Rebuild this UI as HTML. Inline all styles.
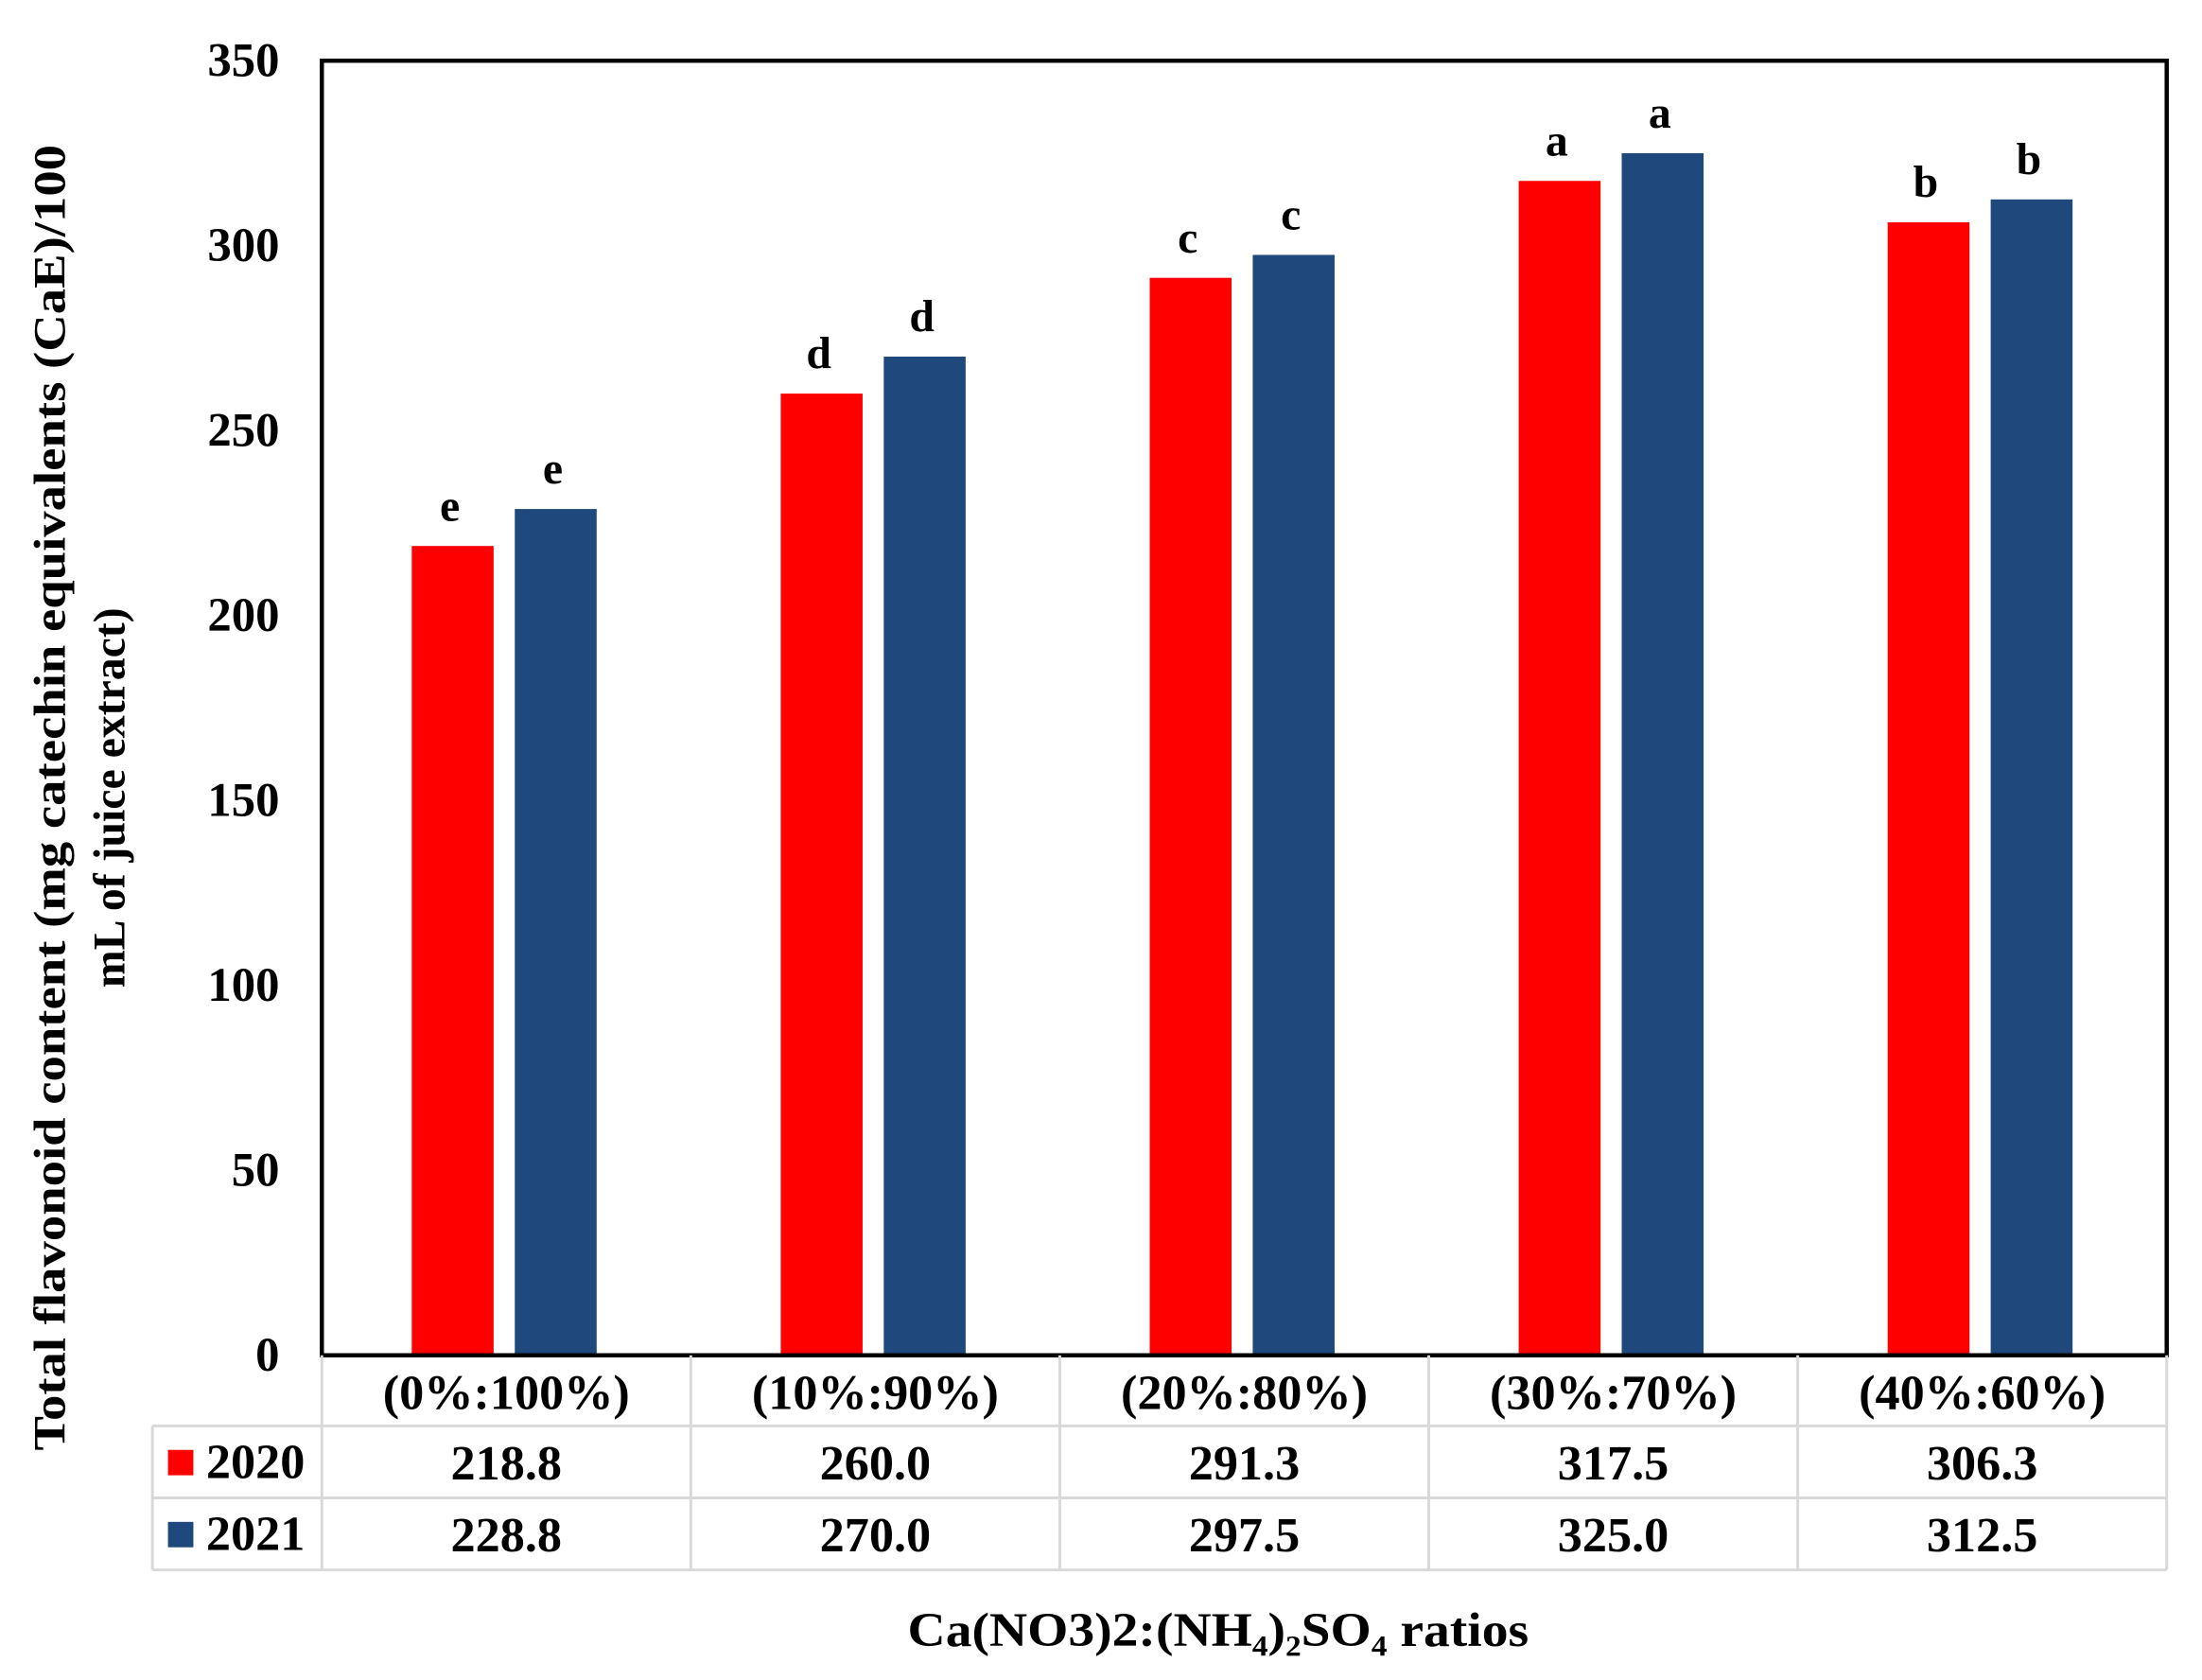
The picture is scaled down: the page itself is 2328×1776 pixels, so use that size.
<!DOCTYPE html>
<html><head><meta charset="utf-8"><style>
html,body{margin:0;padding:0;background:#fff}
svg{display:block}
text{font-family:"Liberation Serif",serif;font-weight:bold;fill:#000}
</style></head><body>
<svg id="chart" width="2328" height="1776" viewBox="0 0 1560 1190" preserveAspectRatio="none" xmlns="http://www.w3.org/2000/svg">
<g id="marks"></g>
<g id="tbl"></g>
<text transform="translate(46,565) rotate(-90)" text-anchor="middle" font-size="32" textLength="925" lengthAdjust="spacingAndGlyphs">Total flavonoid content (mg catechin  equivalents (CaE)/100</text>
<text transform="translate(88,565) rotate(-90)" text-anchor="middle" font-size="32">mL of juice extract)</text>
<text x="863" y="1166" text-anchor="middle" font-size="34" textLength="440" lengthAdjust="spacingAndGlyphs">Ca(NO3)2:(NH₄)₂SO₄  ratios</text>
</svg>
<script>
const categories=["(0%:100%)","(10%:90%)","(20%:80%)","(30%:70%)","(40%:60%)"];
const values2020=[218.8,260.0,291.3,317.5,306.3];
const values2021=[228.8,270.0,297.5,325.0,312.5];
const letters2020=["e","d","c","a","b"];
const letters2021=["e","d","c","a","b"];
const yTicks=[0,50,100,150,200,250,300,350];
const seriesNames=["2020","2021"];
const colors=["#ff0000","#1f497d"];
const NS="http://www.w3.org/2000/svg";
const L=228,R=1535,T=43,B=960,YMAX=350;
const bw=(R-L)/categories.length;
const y=v=>B-(v/YMAX)*(B-T);
const xc=i=>L+bw*(i+0.5);
function mk(tag,attrs,parent,txt){const e=document.createElementNS(NS,tag);for(const k in attrs)e.setAttribute(k,attrs[k]);if(txt!==undefined)e.textContent=txt;parent.appendChild(e);return e;}
const g=document.getElementById('marks');
const tb=document.getElementById('tbl');
yTicks.forEach(t=>{
  const e=mk('text',{x:198,y:y(t)+11,'text-anchor':'end','font-size':34},g,String(t));
  
  
});
const series=[values2020,values2021];
const lets=[letters2020,letters2021];
categories.forEach((c,i)=>{
  series.forEach((vals,s)=>{
    const x0=s===0?xc(i)-67:xc(i)+6;
    const r=mk('rect',{x:x0,y:y(vals[i]),width:58,height:B-y(vals[i]),fill:colors[s]},g);
    
    
    const t=mk('text',{x:x0+27,y:y(vals[i])-18,'text-anchor':'middle','font-size':32},g,lets[s][i]);
    
    
  });
});
const frame=mk('rect',{x:L,y:T,width:R-L,height:B-T,fill:'none',stroke:'#000','stroke-width':3},g);


const rows=[960,1010,1061,1112];
const st={stroke:'#d9d9d9','stroke-width':2};
for(let i=0;i<=categories.length;i++){
  const x=L+bw*i;
  const ln=mk('line',Object.assign({x1:x,y1:960,x2:x,y2:1112},st),tb);
  
  
}
[1010,1061,1112].forEach(yy=>{
  const ln=mk('line',Object.assign({x1:108,y1:yy,x2:R,y2:yy},st),tb);
  
  
});
const lv=mk('line',Object.assign({x1:108,y1:1010,x2:108,y2:1112},st),tb);


categories.forEach((c,i)=>{
  const t=mk('text',{x:xc(i),y:998,'text-anchor':'middle','font-size':35},tb,c);
  
  
  series.forEach((vals,s)=>{
    const v=mk('text',{x:xc(i),y:rows[s+1]+38,'text-anchor':'middle','font-size':35},tb,vals[i].toFixed(1));
    
    
  });
});
seriesNames.forEach((n,s)=>{
  const k=mk('rect',{x:119,y:rows[s+1]+17,width:18,height:18,fill:colors[s]},tb);
  
  
  const t=mk('text',{x:146,y:rows[s+1]+37,'font-size':35},tb,n);
  
  
});
</script>
</body></html>
